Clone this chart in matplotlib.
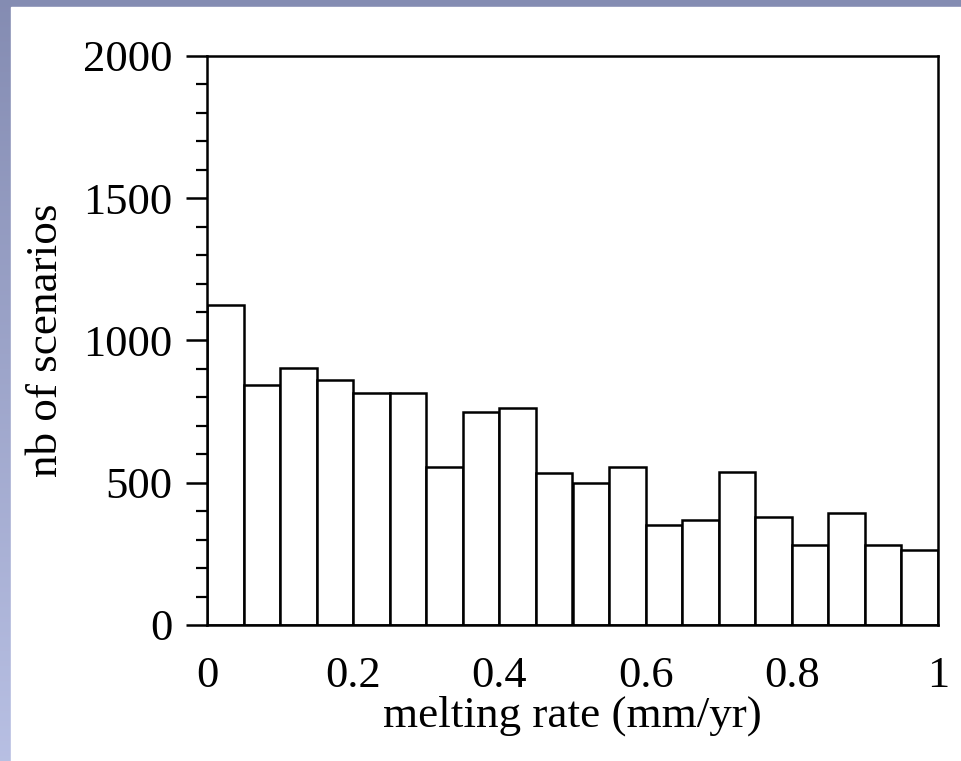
import matplotlib
matplotlib.use("Agg")
import matplotlib.pyplot as plt  # Data visualisation
import numpy as np
from matplotlib.ticker import MultipleLocator, FixedLocator, FixedFormatter

# Histogram of melting rate scenarios (20 bins of 0.05 mm/yr)
bin_edges = np.linspace(0, 1, 21)
counts = [1125, 844, 904, 861, 814, 814, 554, 747, 764, 535,
          500, 554, 353, 369, 538, 379, 282, 395, 281, 263]
x_ticks = [0, 0.2, 0.4, 0.6, 0.8, 1]
x_tick_labels = ["0", "0.2", "0.4", "0.6", "0.8", "1"]
y_ticks = [0, 500, 1000, 1500, 2000]

plt.rcParams["font.family"] = ["Liberation Serif", "DejaVu Serif"]

fig = plt.figure(figsize=(9.62, 7.61), dpi=100)

# bluish gradient backdrop with a white panel over it
bg = fig.add_axes([0, 0, 1, 1], zorder=-2)
grad = np.linspace(0, 1, 256)[:, None]
top_col = np.array([0.52, 0.55, 0.70])
bot_col = np.array([0.72, 0.75, 0.89])
img = top_col[None, None, :] * (1 - grad[:, :, None]) + bot_col[None, None, :] * grad[:, :, None]
bg.imshow(img, aspect="auto", extent=[0, 1, 0, 1])
bg.add_patch(plt.Rectangle((11 / 962, 0), 1, 1 - 7 / 761, color="white"))
bg.set_xlim(0, 1)
bg.set_ylim(0, 1)
bg.axis("off")

ax = fig.add_axes([207 / 962, 1 - 625 / 761, 731 / 962, 569 / 761])
ax.hist(bin_edges[:-1], bins=bin_edges, weights=counts,
        histtype="bar", facecolor="white", edgecolor="black", linewidth=1.8)

ax.set_xlim(0, 1)
ax.set_ylim(0, 2000)
ax.xaxis.set_major_locator(FixedLocator(x_ticks))
ax.xaxis.set_major_formatter(FixedFormatter(x_tick_labels))
ax.yaxis.set_major_locator(FixedLocator(y_ticks))
ax.yaxis.set_minor_locator(MultipleLocator(100))

ax.tick_params(axis="x", length=0, pad=22, labelsize=32)
ax.tick_params(axis="y", which="major", direction="out", length=15, width=1.8, pad=10, labelsize=32)
ax.tick_params(axis="y", which="minor", direction="out", length=8, width=1.6)
for s in ax.spines.values():
    s.set_linewidth(1.8)

ax.set_xlabel("melting rate (mm/yr)", fontsize=32.5, labelpad=0)
ax.set_ylabel("nb of scenarios", fontsize=32.5, labelpad=12)

fig.savefig("out.png", dpi=100)
